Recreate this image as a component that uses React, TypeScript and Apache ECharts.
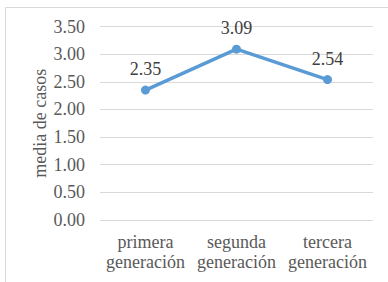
import React, { useEffect, useRef } from "react";
import * as echarts from "echarts";

const categories = ["primera\ngeneración", "segunda\ngeneración", "tercera\ngeneración"];
const values = [2.35, 3.09, 2.54];
const yTicks = [0, 0.5, 1, 1.5, 2, 2.5, 3, 3.5];
const yAxisName = "media de casos";

const FONT = "Liberation Serif";
const AXIS_COLOR = "#595959";
const LABEL_COLOR = "#404040";
const FS = 18;

export default function App() {
  const ref = useRef<HTMLDivElement>(null);
  useEffect(() => {
    const chart = echarts.init(ref.current!, null, { renderer: "svg" });
    const grid = { left: 100, right: 15, top: 26.5, bottom: 62 };
    chart.setOption({
      animation: false,
      backgroundColor: "#ffffff",
      grid: { ...grid, containLabel: false },
      xAxis: {
        type: "category",
        data: categories,
        boundaryGap: true,
        axisLine: { show: false },
        axisTick: { show: false },
        axisLabel: { show: false },
      },
      yAxis: {
        type: "value",
        min: yTicks[0],
        max: yTicks[yTicks.length - 1],
        interval: 0.5,
        axisLine: { show: false },
        axisTick: { show: false },
        axisLabel: { show: false },
        splitLine: { lineStyle: { color: "#d9d9d9", width: 1 } },
      },
      series: [
        {
          type: "line",
          data: values,
          symbol: "circle",
          symbolSize: 9,
          lineStyle: { color: "#5b9bd5", width: 3.5 },
          itemStyle: { color: "#5b9bd5" },
        },
      ],
    });

    const ctx = document.createElement("canvas").getContext("2d")!;
    ctx.font = `${FS}px "${FONT}", serif`;
    const width = (t: string) => ctx.measureText(t).width;

    // align: 0 = left, 0.5 = center, 1 = right (offset computed from measured width)
    const txt = (x: number, y: number, text: string, color: string, align: number) => ({
      type: "text",
      x: x - width(text) * align,
      y,
      style: {
        text,
        fill: color,
        fontFamily: FONT,
        fontSize: FS,
        textVerticalAlign: "middle",
      },
    });

    const graphics: any[] = [
      { type: "line", shape: { x1: 5.5, y1: 7.5, x2: 388, y2: 7.5 }, style: { stroke: "#d9d9d9", lineWidth: 1 } },
      { type: "line", shape: { x1: 5.5, y1: 7.5, x2: 5.5, y2: 282 }, style: { stroke: "#d9d9d9", lineWidth: 1 } },
    ];
    yTicks.forEach((v) => {
      const py = chart.convertToPixel({ yAxisIndex: 0 }, v) as number;
      graphics.push(txt(grid.left - 15, py, v.toFixed(2), AXIS_COLOR, 1));
    });
    const bottomY = chart.convertToPixel({ yAxisIndex: 0 }, yTicks[0]) as number;
    const topY = chart.convertToPixel({ yAxisIndex: 0 }, yTicks[yTicks.length - 1]) as number;
    categories.forEach((c, i) => {
      const px = chart.convertToPixel({ xAxisIndex: 0 }, i) as number;
      c.split("\n").forEach((line, j) => {
        graphics.push(txt(px, bottomY + 22 + j * 20, line, AXIS_COLOR, 0.5));
      });
    });
    values.forEach((v, i) => {
      const [px, py] = chart.convertToPixel({ seriesIndex: 0 }, [i, v]) as number[];
      graphics.push(txt(px, py - 21, v.toFixed(2), LABEL_COLOR, 0.5));
    });
    const nameW = width(yAxisName);
    graphics.push({
      type: "text",
      x: 40,
      y: (bottomY + topY) / 2 + nameW / 2,
      rotation: Math.PI / 2,
      style: {
        text: yAxisName,
        fill: AXIS_COLOR,
        fontFamily: FONT,
        fontSize: FS,
        textVerticalAlign: "middle",
      },
    });
    chart.setOption({ graphic: graphics });
    return () => chart.dispose();
  }, []);
  return <div ref={ref} style={{ width: 388, height: 282, position: "fixed", left: 0, top: 0 }} />;
}
